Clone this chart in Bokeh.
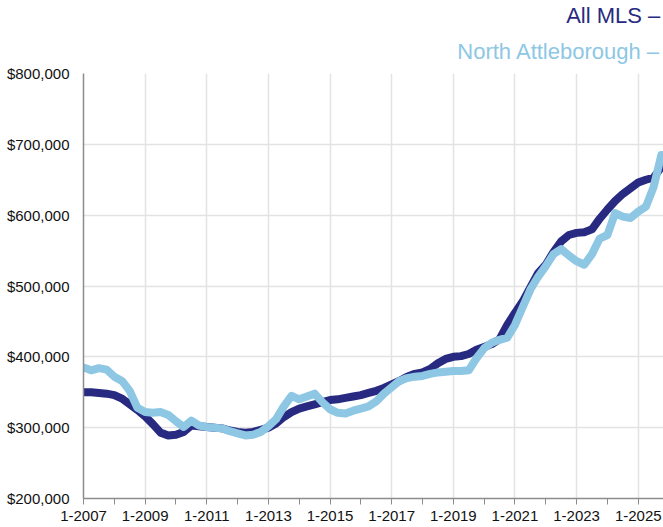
from bokeh.plotting import figure
from bokeh.models import Range1d, FixedTicker, NumeralTickFormatter, Title
from bokeh.embed import file_html
from bokeh.resources import INLINE

# Quarterly median sale price, thousands of dollars, starting 1-2007
all_mls = [350, 350, 349, 348, 346, 341, 333, 325,
           316, 305, 293, 289, 290, 294, 303, 302,
           301, 300, 299, 296, 294, 293, 294, 297,
           300, 306, 315, 322, 327, 330, 333, 336,
           339, 340, 342, 344, 346, 349, 352, 356,
           361, 366, 372, 376, 378, 383, 391, 397,
           400, 401, 404, 410, 414, 418, 425, 445,
           462, 478, 498, 518, 530, 548, 563, 572,
           575, 576, 580, 595, 608, 620, 630, 638,
           646, 650, 653, 668]
north_attleborough = [385, 381, 384, 382, 372, 366, 352, 328,
                      322, 321, 322, 318, 309, 301, 310, 303,
                      301, 300, 299, 295, 292, 289, 290, 294,
                      302, 312, 330, 345, 340, 344, 348, 336,
                      326, 321, 320, 324, 327, 330, 337, 348,
                      357, 366, 370, 372, 373, 376, 378, 379,
                      380, 380, 381, 398, 412, 420, 424, 427,
                      445, 470, 495, 513, 528, 545, 552, 543,
                      535, 530, 545, 567, 572, 603, 598, 596,
                      605, 612, 640, 685]
start_year = 2007
label_years = [2007, 2009, 2011, 2013, 2015, 2017, 2019, 2021, 2023, 2025]
minor_years = [2008, 2010, 2012, 2014, 2016, 2018, 2020, 2022, 2024]
tick_labels = ["1-2007", "1-2009", "1-2011", "1-2013", "1-2015",
               "1-2017", "1-2019", "1-2021", "1-2023", "1-2025"]
y_ticks = [200000, 300000, 400000, 500000, 600000, 700000, 800000]
series_names = ["All MLS", "North Attleborough"]
series_colors = ["#272a80", "#8dc7e4"]

x = [start_year + i / 4 for i in range(len(all_mls))]

FONT = "Liberation Sans"

p = figure(width=663, height=527, output_backend="svg", toolbar_location=None,
           x_range=Range1d(2007, 2025.82), y_range=Range1d(200000, 800000),
           min_border_left=83, min_border_right=0, min_border_top=0,
           min_border_bottom=29, title=None)
p.outline_line_color = None
p.background_fill_color = "white"
p.border_fill_color = "white"

p.line(x, [v * 1000 for v in all_mls], line_color=series_colors[0],
       line_width=8, line_join="round", line_cap="round")
p.line(x, [v * 1000 for v in north_attleborough], line_color=series_colors[1],
       line_width=8, line_join="round", line_cap="round")

p.xaxis.ticker = FixedTicker(ticks=label_years, minor_ticks=minor_years)
p.xaxis.major_label_overrides = {yr: lab for yr, lab in zip(label_years, tick_labels)}
p.yaxis.ticker = FixedTicker(ticks=y_ticks)
p.yaxis.formatter = NumeralTickFormatter(format="$0,0")

for ax in (p.xaxis[0], p.yaxis[0]):
    ax.axis_line_color = "#8c8c8c"
    ax.axis_line_width = 1.5
    ax.major_tick_line_color = "#8c8c8c"
    ax.minor_tick_line_color = "#8c8c8c"
    ax.major_label_text_font = FONT
    ax.major_label_text_font_size = "15px"
    ax.major_label_text_color = "#111111"

p.xaxis.major_tick_out = 6
p.xaxis.major_tick_in = 0
p.xaxis.minor_tick_out = 6
p.xaxis.minor_tick_in = 0
p.xaxis.major_label_standoff = 6
p.yaxis.major_tick_out = 0
p.yaxis.major_tick_in = 0
p.yaxis.minor_tick_line_color = None
p.yaxis.major_label_standoff = 14

p.xgrid.grid_line_color = "#e3e3e3"
p.ygrid.grid_line_color = "#e3e3e3"
p.xgrid.grid_line_width = 1.5
p.ygrid.grid_line_width = 1.5

p.add_layout(Title(text=series_names[1] + "   \u2013", align="right",
                   text_color=series_colors[1], text_font=FONT,
                   text_font_size="22px", text_font_style="normal",
                   standoff=19, offset=-9), "above")
p.add_layout(Title(text=series_names[0] + "   \u2013", align="right",
                   text_color=series_colors[0], text_font=FONT,
                   text_font_size="22px", text_font_style="normal",
                   standoff=0, offset=-9), "above")

open("out.html", "w").write(file_html(p, INLINE))
